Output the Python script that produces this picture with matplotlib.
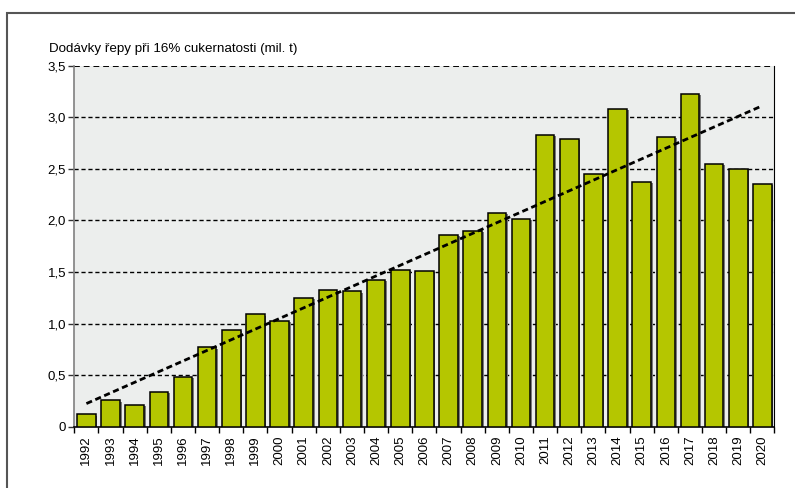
import numpy as np
import matplotlib as mpl
import matplotlib.pyplot as plt
from matplotlib.patches import Rectangle
from matplotlib.ticker import FixedLocator, FuncFormatter

mpl.use('Agg')
plt.rcParams['font.family'] = ['Liberation Sans', 'DejaVu Sans']

# -------------------------------------------------------------------------
years = list(range(1992, 2021))
supply = [0.12, 0.256, 0.213, 0.34, 0.482, 0.77, 0.938, 1.09, 1.028, 1.248,
          1.323, 1.313, 1.426, 1.523, 1.51, 1.856, 1.895, 2.07, 2.017, 2.83,
          2.79, 2.45, 3.08, 2.37, 2.81, 3.23, 2.545, 2.50, 2.355]
y_label = 'Dodávky řepy při 16% cukernatosti (mil. t)'
y_ticks = [0, 0.5, 1.0, 1.5, 2.0, 2.5, 3.0, 3.5]
# -------------------------------------------------------------------------

BAR_COLOR = '#b5c600'
BG_COLOR = '#eceeed'

fig = plt.figure(figsize=(7.95, 4.88), dpi=100)
ax = fig.add_axes([0.0935, 0.1256, 0.8807, 0.7398])
ax.set_facecolor(BG_COLOR)

x = np.arange(len(years))

# grid lines (dashed) behind the bars
for t in y_ticks[1:]:
    ax.axhline(t, color='black', lw=1.0 if t < 3.5 else 1.4,
               ls=(0, (3, 2)), zorder=1)

# shadow, then the bars
ax.bar(x + 0.07, np.array(supply) - 0.012, width=0.77, color='#7a7a7a',
       edgecolor='none', zorder=2)
ax.bar(x, supply, width=0.77, color=BAR_COLOR, edgecolor='black',
       linewidth=1.1, zorder=3)

# linear trend
k, q = np.polyfit(x, supply, 1)
ax.plot(x, k * x + q, color='black', lw=2.0, ls=(0, (2.2, 1.3)), zorder=4)

ax.set_xlim(-0.5, len(years) - 0.5)
ax.set_ylim(0, 3.5)

ax.spines['top'].set_visible(False)
ax.spines['left'].set_color('#808080')
ax.spines['left'].set_linewidth(1.2)
ax.spines['right'].set_color('black')
ax.spines['bottom'].set_color('black')
ax.spines['bottom'].set_linewidth(1.2)

ax.yaxis.set_major_locator(FixedLocator(y_ticks))
ax.yaxis.set_major_formatter(FuncFormatter(
    lambda v, p: '0' if v == 0 else f'{v:.1f}'.replace('.', ',')))
ax.tick_params(axis='y', direction='out', length=4, width=1, color='#333333',
               labelsize=9.5, pad=2)

ax.set_xticks(x)
ax.set_xticklabels([str(y) for y in years], rotation=90, fontsize=9.5)
ax.tick_params(axis='x', which='major', length=0, pad=6)
ax.set_xticks(np.arange(-0.5, len(years)), minor=True)
ax.tick_params(axis='x', which='minor', direction='out', length=4, width=1,
               color='black')

fig.text(49 / 795, 1 - 49 / 488, y_label, fontsize=9.6, va='center',
         ha='left')

# outer frame
fig.patches.append(Rectangle((7 / 795, -0.1), 1.0, 1 - 13 / 488 + 0.1,
                             transform=fig.transFigure, fill=False,
                             edgecolor='#555555', lw=1.5, clip_on=False))

plt.savefig('out.png', dpi=100)
